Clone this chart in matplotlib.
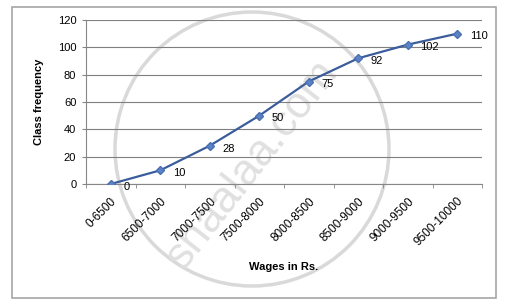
import numpy as np
import matplotlib.pyplot as plt
from matplotlib.patches import Rectangle, Ellipse

# datos
clases = ['0-6500', '6500-7000', '7000-7500', '7500-8000', '8000-8500',
          '8500-9000', '9000-9500', '9500-10000']
frecuencia = [0, 10, 28, 50, 75, 92, 102, 110]
yticks = [0, 20, 40, 60, 80, 100, 120]

plt.rcParams['font.family'] = ['Liberation Sans', 'DejaVu Sans']

fig = plt.figure(figsize=(5.06, 3.06), dpi=100)
W, H = 506, 306

# marco exterior del grafico
fig.patches.append(Rectangle((12 / W, 1 - 298 / H), 484 / W, 291 / H,
                             transform=fig.transFigure, fill=False,
                             edgecolor='#a6a6a6', linewidth=1.2))

ax = fig.add_axes([86 / W, 1 - 184 / H, 396 / W, 164 / H])
ax.patch.set_alpha(0)
x = np.arange(len(clases))
ax.plot(x, frecuencia, color='#3b5d9c', linewidth=1.6, marker='D',
        markersize=4.5, markerfacecolor='#5b83c6', markeredgecolor='#4a70b3',
        zorder=3)
for xi, yi in zip(x, frecuencia):
    ax.annotate(str(yi), (xi, yi), xytext=(9, -2), textcoords='offset points',
                fontsize=8, va='center', ha='left')

ax.set_xlim(-0.5, len(clases) - 0.5)
ax.set_ylim(0, 120)
ax.set_yticks(yticks)
ax.set_xticks(x)
ax.set_xticklabels(clases, rotation=45, ha='right', rotation_mode='anchor',
                   fontsize=8.5)
ax.tick_params(axis='x', length=0, pad=8)
ax.set_xticks(np.arange(-0.5, len(clases)), minor=True)
ax.tick_params(axis='x', which='minor', length=3, color='#868686')
ax.tick_params(axis='y', labelsize=8, length=3, color='#868686', pad=4)
ax.grid(axis='y', color='#7f7f7f', linewidth=0.8)
ax.set_axisbelow(True)
for s in ['top', 'right']:
    ax.spines[s].set_visible(False)
ax.spines['left'].set_color('#868686')
ax.spines['bottom'].set_color('#868686')
ax.set_ylabel('Class frequency', fontsize=8, fontweight='bold', labelpad=10)
ax.set_xlabel('Wages in Rs.', fontsize=8, fontweight='bold', labelpad=10)

# marca de agua
fig.patches.append(Ellipse((252 / W, 1 - 149 / H), 274 / W, 274 / H,
                           transform=fig.transFigure, fill=False,
                           edgecolor='#d9d9d9', linewidth=2.5, zorder=-1))
fig.text(252 / W, 1 - 165 / H, 'shaalaa.com', fontsize=32, color='#e0e0e0',
         rotation=52, ha='center', va='center', zorder=-1)

plt.savefig('out.png', dpi=100)
